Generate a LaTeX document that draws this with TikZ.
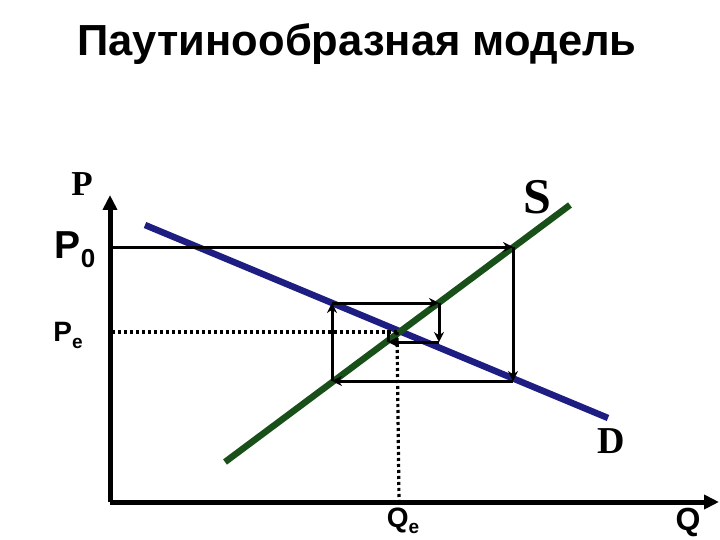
\documentclass[tikz,border=0pt]{standalone}
\usepackage{fontspec}
\setmainfont{Liberation Serif}
\setsansfont{Liberation Sans}
\usetikzlibrary{arrows.meta, positioning}
\definecolor{demandblue}{RGB}{30,30,130}
\definecolor{supplygreen}{RGB}{25,80,25}

\begin{document}
\begin{tikzpicture}[
    x=1pt, y=-1pt,
    axis/.style={line width=5pt, -{Triangle[length=15pt,width=14pt]}},
    demand/.style={line width=6.5pt, demandblue},
    supply/.style={line width=6.5pt, supplygreen},
    web/.style={line width=3pt, -{Stealth[length=10pt,width=10pt]}},
    guide/.style={line width=3.2pt, dash pattern=on 3pt off 3pt},
    sans/.style={font=\sffamily\bfseries},
    serif/.style={font=\bfseries\fontsize{35}{35}\selectfont}
]
\useasboundingbox (0,0) rectangle (720,540);

% title
\node[font=\sffamily\bfseries\fontsize{43.5}{46}\selectfont] (title) at (357,44) {Паутинообразная модель};

% axes
\coordinate (origin) at (110,502);
\coordinate (ytop) at (110,195);
\coordinate (xend) at (719,502);
\draw[axis] (origin) -- (ytop);
\draw[axis] (origin) -- (xend);

% supply and demand
\coordinate (d1) at (145,225);
\coordinate (d2) at (608,418);
\coordinate (s1) at (225,462);
\coordinate (s2) at (570,205);
\draw[demand] (d1) -- (d2);
\draw[supply] (s1) -- (s2);

% equilibrium guides
\coordinate (eq) at (397,332);
\coordinate (pe) at (112,332);
\coordinate (qe) at (399,500);
\draw[guide] (pe) -- (eq);
\draw[guide] (eq) -- (qe);

% cobweb
\coordinate (c0) at (110,247);
\coordinate (c1) at (513,247);
\coordinate (c2) at (513,381);
\coordinate (c3) at (332,381);
\coordinate (c4) at (332,303);
\coordinate (c5) at (439,303);
\coordinate (c6) at (439,342);
\coordinate (c7) at (388,342);
\coordinate (c8) at (388,330);
\draw[web] (c0) -- (c1);
\draw[web] (c1) -- (c2);
\draw[web] (c2) -- (c3);
\draw[web] (c3) -- (c4);
\draw[web] (c4) -- (c5);
\draw[web] (c5) -- (c6);
\draw[web] (c6) -- (c7);
\draw[line width=3pt] (c7) -- (c8);

% labels
\node[serif] (plabel) at (82,184) {P};
\node[font=\bfseries\fontsize{50}{50}\selectfont] (slabel) at (537,197) {S};
\node[font=\bfseries\fontsize{38}{38}\selectfont] (dlabel) at (611,441) {D};
\node[sans, font=\sffamily\bfseries\fontsize{39}{39}\selectfont] (p0label) at (75,250) {P\raisebox{-9pt}{\fontsize{26}{26}\selectfont 0}};
\node[sans, font=\sffamily\bfseries\fontsize{28}{28}\selectfont] (pelabel) at (68,335) {P\raisebox{-7pt}{\fontsize{19}{19}\selectfont e}};
\node[sans, font=\sffamily\bfseries\fontsize{28}{28}\selectfont] (qelabel) at (403,521) {Q\raisebox{-6pt}{\fontsize{19}{19}\selectfont e}};
\node[sans, font=\sffamily\bfseries\fontsize{32}{32}\selectfont] (qlabel) at (688,522) {Q};
\end{tikzpicture}
\end{document}
